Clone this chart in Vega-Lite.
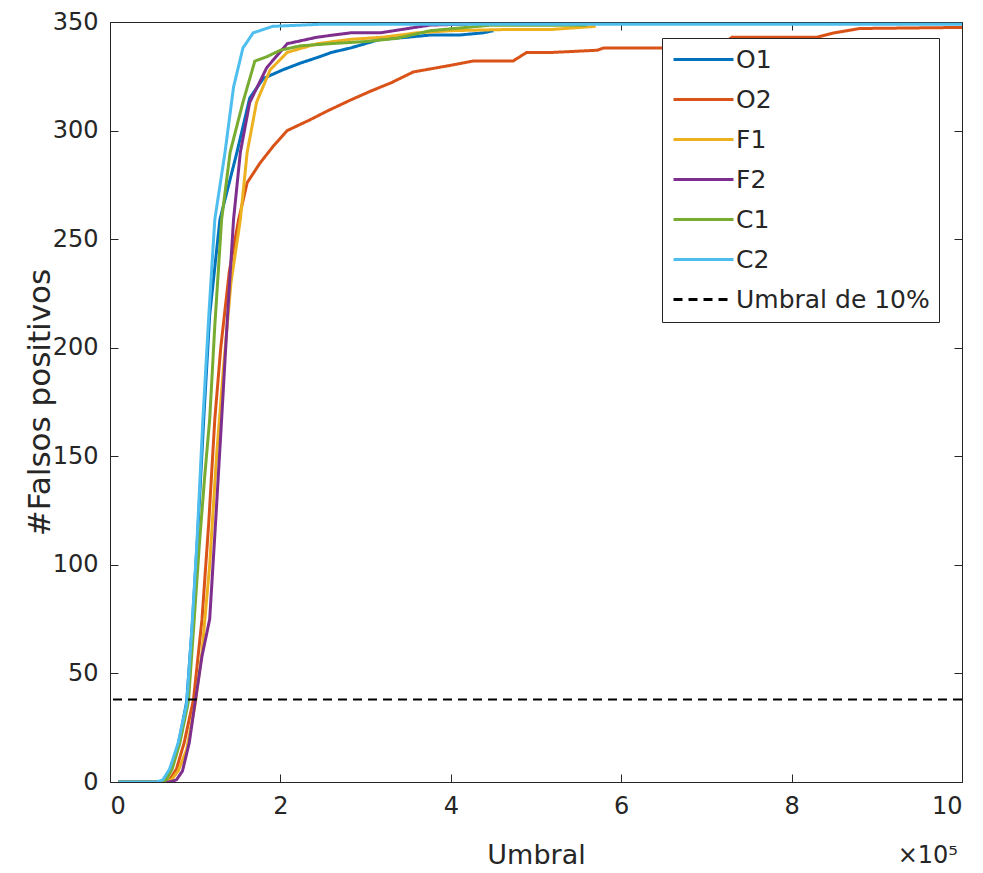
{
  "$schema": "https://vega.github.io/schema/vega-lite/v6.json",
  "width": 852,
  "height": 760,
  "autosize": "none",
  "padding": {"left": 110, "top": 22, "right": 21, "bottom": 91},
  "background": "white",
  "config": {
    "view": {"stroke": "#262626", "strokeWidth": 1},
    "font": "DejaVu Sans",
    "axis": {
      "grid": false, "domain": false, "tickColor": "#262626", "tickSize": -8, "tickWidth": 1,
      "labelFont": "DejaVu Sans", "labelFontSize": 24, "labelColor": "#262626",
      "titleFont": "DejaVu Sans", "titleFontSize": 27, "titleFontWeight": "normal", "titleColor": "#262626"
    }
  },
  "datasets": {
    "curvas": [
      {"serie":"O1","umbral":10000,"fp":0},{"serie":"O1","umbral":58000,"fp":0},{"serie":"O1","umbral":65000,"fp":1},{"serie":"O1","umbral":72000,"fp":6},{"serie":"O1","umbral":80000,"fp":17},{"serie":"O1","umbral":90000,"fp":37},{"serie":"O1","umbral":97000,"fp":75},{"serie":"O1","umbral":103000,"fp":115},{"serie":"O1","umbral":110000,"fp":167},{"serie":"O1","umbral":117000,"fp":215},{"serie":"O1","umbral":129000,"fp":259},{"serie":"O1","umbral":149000,"fp":290},{"serie":"O1","umbral":164000,"fp":315},{"serie":"O1","umbral":180000,"fp":324},{"serie":"O1","umbral":203000,"fp":328},{"serie":"O1","umbral":223000,"fp":331},{"serie":"O1","umbral":246000,"fp":334},{"serie":"O1","umbral":260000,"fp":336},{"serie":"O1","umbral":282000,"fp":338},{"serie":"O1","umbral":317000,"fp":342},{"serie":"O1","umbral":350000,"fp":343},{"serie":"O1","umbral":376000,"fp":344},{"serie":"O1","umbral":410000,"fp":344},{"serie":"O1","umbral":438000,"fp":345},{"serie":"O1","umbral":450000,"fp":346},
      {"serie":"O2","umbral":10000,"fp":0},{"serie":"O2","umbral":63000,"fp":0},{"serie":"O2","umbral":70000,"fp":1},{"serie":"O2","umbral":78000,"fp":6},{"serie":"O2","umbral":87000,"fp":18},{"serie":"O2","umbral":98000,"fp":38},{"serie":"O2","umbral":108000,"fp":75},{"serie":"O2","umbral":116000,"fp":120},{"serie":"O2","umbral":123000,"fp":167},{"serie":"O2","umbral":130000,"fp":200},{"serie":"O2","umbral":140000,"fp":235},{"serie":"O2","umbral":151000,"fp":259},{"serie":"O2","umbral":161000,"fp":276},{"serie":"O2","umbral":176000,"fp":285},{"serie":"O2","umbral":192000,"fp":293},{"serie":"O2","umbral":208000,"fp":300},{"serie":"O2","umbral":235000,"fp":305},{"serie":"O2","umbral":255000,"fp":309},{"serie":"O2","umbral":282000,"fp":314},{"serie":"O2","umbral":305000,"fp":318},{"serie":"O2","umbral":330000,"fp":322},{"serie":"O2","umbral":356000,"fp":327},{"serie":"O2","umbral":399000,"fp":330},{"serie":"O2","umbral":426000,"fp":332},{"serie":"O2","umbral":473000,"fp":332},{"serie":"O2","umbral":489000,"fp":336},{"serie":"O2","umbral":520000,"fp":336},{"serie":"O2","umbral":572000,"fp":337},{"serie":"O2","umbral":579000,"fp":338},{"serie":"O2","umbral":660000,"fp":338},{"serie":"O2","umbral":720000,"fp":340},{"serie":"O2","umbral":730000,"fp":343},{"serie":"O2","umbral":830000,"fp":343},{"serie":"O2","umbral":850000,"fp":345},{"serie":"O2","umbral":880000,"fp":347},{"serie":"O2","umbral":1000000,"fp":347.5},
      {"serie":"F1","umbral":10000,"fp":0},{"serie":"F1","umbral":65000,"fp":0},{"serie":"F1","umbral":72000,"fp":1},{"serie":"F1","umbral":80000,"fp":5},{"serie":"F1","umbral":90000,"fp":15},{"serie":"F1","umbral":100000,"fp":36},{"serie":"F1","umbral":108000,"fp":60},{"serie":"F1","umbral":117000,"fp":100},{"serie":"F1","umbral":125000,"fp":150},{"serie":"F1","umbral":133000,"fp":190},{"serie":"F1","umbral":142000,"fp":230},{"serie":"F1","umbral":153000,"fp":259},{"serie":"F1","umbral":161000,"fp":290},{"serie":"F1","umbral":172000,"fp":313},{"serie":"F1","umbral":188000,"fp":328},{"serie":"F1","umbral":208000,"fp":336},{"serie":"F1","umbral":243000,"fp":340},{"serie":"F1","umbral":282000,"fp":342},{"serie":"F1","umbral":320000,"fp":343},{"serie":"F1","umbral":360000,"fp":345},{"serie":"F1","umbral":400000,"fp":346},{"serie":"F1","umbral":460000,"fp":346.5},{"serie":"F1","umbral":516000,"fp":346.5},{"serie":"F1","umbral":570000,"fp":348},
      {"serie":"F2","umbral":10000,"fp":0},{"serie":"F2","umbral":70000,"fp":0},{"serie":"F2","umbral":78000,"fp":1},{"serie":"F2","umbral":85000,"fp":5},{"serie":"F2","umbral":93000,"fp":18},{"serie":"F2","umbral":100000,"fp":37},{"serie":"F2","umbral":108000,"fp":58},{"serie":"F2","umbral":117000,"fp":75},{"serie":"F2","umbral":124000,"fp":120},{"serie":"F2","umbral":131000,"fp":167},{"serie":"F2","umbral":138000,"fp":215},{"serie":"F2","umbral":145000,"fp":259},{"serie":"F2","umbral":153000,"fp":290},{"serie":"F2","umbral":164000,"fp":313},{"serie":"F2","umbral":184000,"fp":329},{"serie":"F2","umbral":208000,"fp":340},{"serie":"F2","umbral":243000,"fp":343},{"serie":"F2","umbral":282000,"fp":345},{"serie":"F2","umbral":317000,"fp":345},{"serie":"F2","umbral":376000,"fp":348.6},{"serie":"F2","umbral":420000,"fp":349},
      {"serie":"C1","umbral":10000,"fp":0},{"serie":"C1","umbral":60000,"fp":0},{"serie":"C1","umbral":66000,"fp":1},{"serie":"C1","umbral":73000,"fp":6},{"serie":"C1","umbral":82000,"fp":18},{"serie":"C1","umbral":92000,"fp":37},{"serie":"C1","umbral":98000,"fp":70},{"serie":"C1","umbral":105000,"fp":110},{"serie":"C1","umbral":111000,"fp":140},{"serie":"C1","umbral":117000,"fp":167},{"serie":"C1","umbral":123000,"fp":210},{"serie":"C1","umbral":131000,"fp":259},{"serie":"C1","umbral":141000,"fp":290},{"serie":"C1","umbral":156000,"fp":313},{"serie":"C1","umbral":170000,"fp":332},{"serie":"C1","umbral":184000,"fp":334},{"serie":"C1","umbral":200000,"fp":337},{"serie":"C1","umbral":223000,"fp":339},{"serie":"C1","umbral":258000,"fp":340},{"serie":"C1","umbral":300000,"fp":341},{"serie":"C1","umbral":337000,"fp":342.5},{"serie":"C1","umbral":376000,"fp":346},{"serie":"C1","umbral":446000,"fp":348.5},{"serie":"C1","umbral":560000,"fp":348.5},
      {"serie":"C2","umbral":10000,"fp":0},{"serie":"C2","umbral":55000,"fp":0},{"serie":"C2","umbral":62000,"fp":1},{"serie":"C2","umbral":70000,"fp":6},{"serie":"C2","umbral":80000,"fp":18},{"serie":"C2","umbral":90000,"fp":36},{"serie":"C2","umbral":96000,"fp":70},{"serie":"C2","umbral":102000,"fp":110},{"serie":"C2","umbral":109000,"fp":167},{"serie":"C2","umbral":116000,"fp":215},{"serie":"C2","umbral":123000,"fp":259},{"serie":"C2","umbral":135000,"fp":290},{"serie":"C2","umbral":145000,"fp":320},{"serie":"C2","umbral":156000,"fp":338},{"serie":"C2","umbral":168000,"fp":345},{"serie":"C2","umbral":191000,"fp":348},{"serie":"C2","umbral":250000,"fp":349},{"serie":"C2","umbral":1000000,"fp":349}
    ],
    "umbral10": [{"serie":"Umbral de 10%","fp":38}]
  },
  "layer": [
    {
      "data": {"name": "curvas"},
      "mark": {"type": "line", "strokeWidth": 3, "clip": true},
      "encoding": {
        "x": {"field": "umbral", "type": "quantitative", "scale": {"domain": [0, 1000000], "nice": false},
              "axis": {"orient": "bottom", "values": [0,200000,400000,600000,800000,1000000], "labelExpr": "format(datum.value/100000, 'd')", "labelPadding": 20, "title": "Umbral", "titleBaseline": "middle", "titleY": 73}},
        "y": {"field": "fp", "type": "quantitative", "scale": {"domain": [0, 350], "nice": false},
              "axis": {"orient": "left", "values": [0,50,100,150,200,250,300,350], "labelPadding": 20, "title": "#Falsos positivos", "titleFontSize": 31, "titleX": -70, "titleBaseline": "middle"}},
        "color": {"field": "serie", "type": "nominal", "sort": null,
                  "scale": {"domain": ["O1","O2","F1","F2","C1","C2","Umbral de 10%"], "range": ["#0072BD","#D95319","#EDB120","#7E2F8E","#77AC30","#4DBEEE","#000000"]},
                  "legend": {"title": null, "orient": "none", "legendX": 552, "legendY": 16, "symbolType": "M-1,0H5", "symbolSize": 400, "symbolStrokeWidth": 3, "labelFontSize": 25, "labelFont": "DejaVu Sans", "labelColor": "#262626", "labelOffset": 40, "rowPadding": 14, "padding": 9, "strokeColor": "#262626", "fillColor": "white", "labelLimit": 400}},
        "strokeDash": {"field": "serie", "type": "nominal", "sort": null,
                  "scale": {"domain": ["O1","O2","F1","F2","C1","C2","Umbral de 10%"], "range": [[1,0],[1,0],[1,0],[1,0],[1,0],[1,0],[9,6]]},
                  "legend": {"title": null, "orient": "none", "legendX": 552, "legendY": 16, "symbolType": "M-1,0H5", "symbolSize": 400, "symbolStrokeWidth": 3, "labelFontSize": 25, "labelFont": "DejaVu Sans", "labelColor": "#262626", "labelOffset": 40, "rowPadding": 14, "padding": 9, "strokeColor": "#262626", "fillColor": "white", "labelLimit": 400}}
      }
    },
    {
      "data": {"name": "umbral10"},
      "mark": {"type": "rule", "strokeWidth": 2},
      "encoding": {
        "y": {"field": "fp", "type": "quantitative", "axis": null},
        "color": {"field": "serie", "type": "nominal"},
        "strokeDash": {"field": "serie", "type": "nominal"}
      }
    },
    {
      "data": {"values": [{"etiqueta": "×10⁵"}]},
      "mark": {"type": "text", "align": "right", "baseline": "middle", "dy": 74, "dx": -4, "fontSize": 24, "font": "DejaVu Sans", "color": "#262626"},
      "encoding": {
        "text": {"field": "etiqueta"},
        "x": {"datum": 1000000, "type": "quantitative", "axis": {"orient": "top", "values": [0,200000,400000,600000,800000,1000000], "labels": false, "title": null}},
        "y": {"datum": 0, "type": "quantitative", "axis": {"orient": "right", "values": [0,50,100,150,200,250,300,350], "labels": false, "title": null}}
      }
    }
  ],
  "resolve": {"axis": {"x": "independent", "y": "independent"}}
}
